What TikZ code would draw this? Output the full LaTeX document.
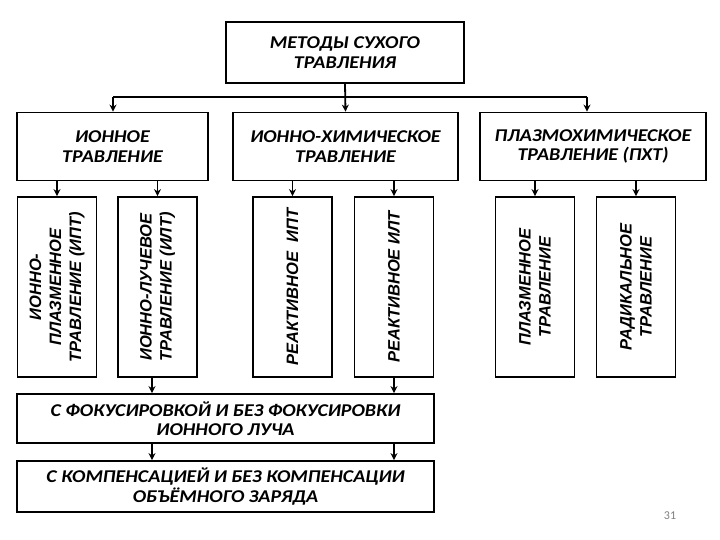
\documentclass[tikz,border=0pt]{standalone}
\usepackage{fontspec}
\setmainfont[FakeStretch=1.11]{Carlito}
\newfontfamily\vfont{Liberation Sans}
\newfontfamily\pgfont{Carlito}
\usetikzlibrary{arrows.meta}
\begin{document}
\begin{tikzpicture}[x=1pt,y=1pt,
  box/.style={draw=black,line width=1.8pt,fill=white,align=center,inner sep=0pt,
    font=\fontsize{18}{19.5}\selectfont\bfseries\itshape},
  vbox/.style={draw=black,line width=1.8pt,fill=white,align=center,inner sep=0pt,rotate=90,
    minimum width=180pt,minimum height=79pt,
    font=\vfont\fontsize{16.5}{20}\selectfont\bfseries\itshape},
  arr/.style={line width=1.8pt,-{Stealth[length=7pt,width=7pt]}},
  ln/.style={line width=1.8pt}]
\useasboundingbox (0,0) rectangle (720,-540);
% top
\node[box,minimum width=238pt,minimum height=61pt] (top) at (345,-52.5) {МЕТОДЫ СУХОГО\\ТРАВЛЕНИЯ};
% level 2
\node[box,minimum width=191pt,minimum height=68pt] (ion) at (112.5,-146.5) {ИОННОЕ\\ТРАВЛЕНИЕ};
\node[box,minimum width=225pt,minimum height=68pt] (ionchem) at (345.5,-146.5) {ИОННО-ХИМИЧЕСКОЕ\\ТРАВЛЕНИЕ};
\node[box,minimum width=226pt,minimum height=68pt] (plasma) at (593,-146.5) {ПЛАЗМОХИМИЧЕСКОЕ\\ТРАВЛЕНИЕ (ПХТ)};
% level 3
\node[vbox] (A) at (57,-287) {ИОННО-\\ПЛАЗМЕННОЕ\\ТРАВЛЕНИЕ (ИПТ)};
\node[vbox] (B) at (157.5,-287) {ИОННО-ЛУЧЕВОЕ\\ТРАВЛЕНИЕ (ИЛТ)};
\node[vbox] (C) at (292.5,-287) {РЕАКТИВНОЕ\ \ ИПТ};
\node[vbox] (D) at (394,-287) {РЕАКТИВНОЕ ИЛТ};
\node[vbox] (E) at (535,-287) {ПЛАЗМЕННОЕ\\ТРАВЛЕНИЕ};
\node[vbox] (F) at (636,-287) {РАДИКАЛЬНОЕ\\ТРАВЛЕНИЕ};
% bottom
\node[box,minimum width=417pt,minimum height=49pt] (focus) at (225.5,-418.5) {С ФОКУСИРОВКОЙ И БЕЗ ФОКУСИРОВКИ\\ИОННОГО ЛУЧА};
\node[box,minimum width=417pt,minimum height=51pt] (comp) at (225.5,-486.5) {С КОМПЕНСАЦИЕЙ И БЕЗ КОМПЕНСАЦИИ\\ОБЪЁМНОГО ЗАРЯДА};
\node[text=gray,font=\pgfont\fontsize{12}{14}\selectfont] (pg) at (670,-516) {31};
% connectors
\coordinate (busL) at (113,-97);
\coordinate (busR) at (587,-97);
\draw[ln] (busL) -- (busR);
\draw[arr] (top.south) -- (ionchem.north);
\draw[arr] (busL) -- (busL |- ion.north);
\draw[arr] (busR) -- (busR |- plasma.north);
\draw[arr] (A.east |- ion.south) -- (A.east);
\draw[arr] (B.east |- ion.south) -- (B.east);
\draw[arr] (C.east |- ionchem.south) -- (C.east);
\draw[arr] (D.east |- ionchem.south) -- (D.east);
\draw[arr] (E.east |- plasma.south) -- (E.east);
\draw[arr] (F.east |- plasma.south) -- (F.east);
\coordinate (bx) at (152,0);
\draw[arr] (bx |- B.west) -- (bx |- focus.north);
\draw[arr] (D.west) -- (D.west |- focus.north);
\draw[arr] (bx |- focus.south) -- (bx |- comp.north);
\draw[arr] (D.west |- focus.south) -- (D.west |- comp.north);
\end{tikzpicture}
\end{document}
